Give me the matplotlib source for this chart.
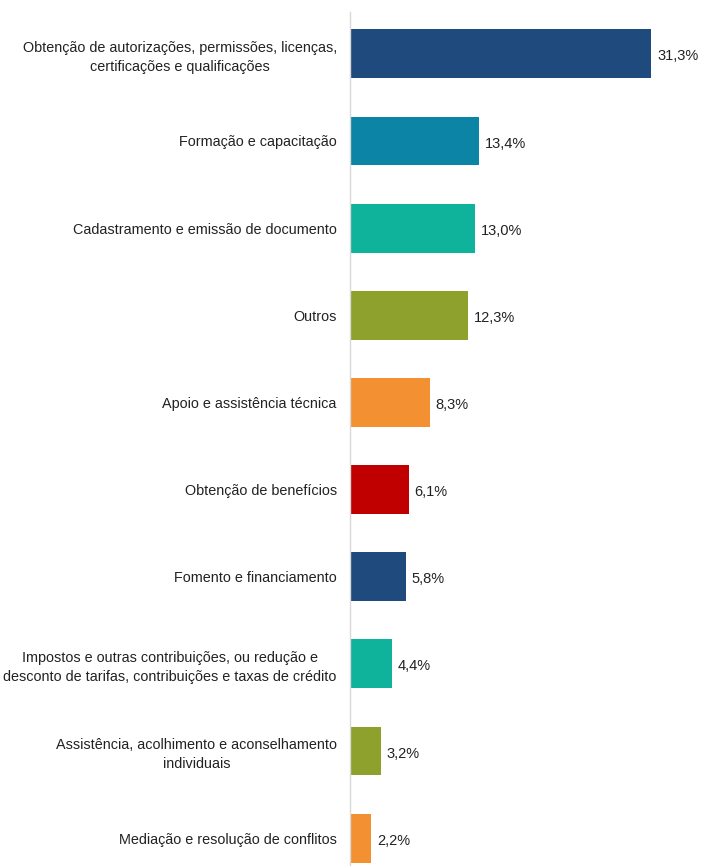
import matplotlib.pyplot as plt

categories = [
    "Obtenção de autorizações, permissões, licenças,\ncertificações e qualificações",
    "Formação e capacitação",
    "Cadastramento e emissão de documento",
    "Outros",
    "Apoio e assistência técnica",
    "Obtenção de benefícios",
    "Fomento e financiamento",
    "Impostos e outras contribuições, ou redução e\ndesconto de tarifas, contribuições e taxas de crédito",
    "Assistência, acolhimento e aconselhamento\nindividuais",
    "Mediação e resolução de conflitos",
]
values = [31.3, 13.4, 13.0, 12.3, 8.3, 6.1, 5.8, 4.4, 3.2, 2.2]
colors = ["#1F4A7E", "#0B84A5", "#0FB29B", "#8DA12C", "#F39031",
          "#C00000", "#1F4A7E", "#0FB29B", "#8DA12C", "#F39031"]

plt.rcParams["font.family"] = ["Liberation Sans", "DejaVu Sans"]

fig = plt.figure(figsize=(7.09, 8.66), dpi=100)
ax = fig.add_axes([350 / 709, 0, 359 / 709, 854 / 866])

pos = list(range(len(values)))
ax.barh(pos, values, height=0.56, color=colors)
ax.set_ylim(9.32, -0.48)
ax.set_xlim(0, 37.3)

for y, v in zip(pos, values):
    ax.text(v + 0.6, y + 0.03, f"{v:.1f}%".replace(".", ","), va="center", ha="left",
            fontsize=10.5, color="#222222")

ax.set_yticks(pos)
labels = ax.set_yticklabels(categories, fontsize=11, color="#222222",
                            ha="right", multialignment="center", linespacing=1.4)
ax.tick_params(axis="y", length=0, pad=9.5)
ax.set_xticks([])

# shrink the labels so the widest one fits the space left of the axis (narrow font in the original)
fig.canvas.draw()
renderer = fig.canvas.get_renderer()
widest = max(t.get_window_extent(renderer).width for t in labels)
for t in labels:
    t.set_fontsize(11 * 332 / widest)

for s in ["top", "right", "bottom"]:
    ax.spines[s].set_visible(False)
ax.spines["left"].set_color("#D9D9D9")
ax.spines["left"].set_linewidth(1)

fig.savefig("out.png", dpi=100)
